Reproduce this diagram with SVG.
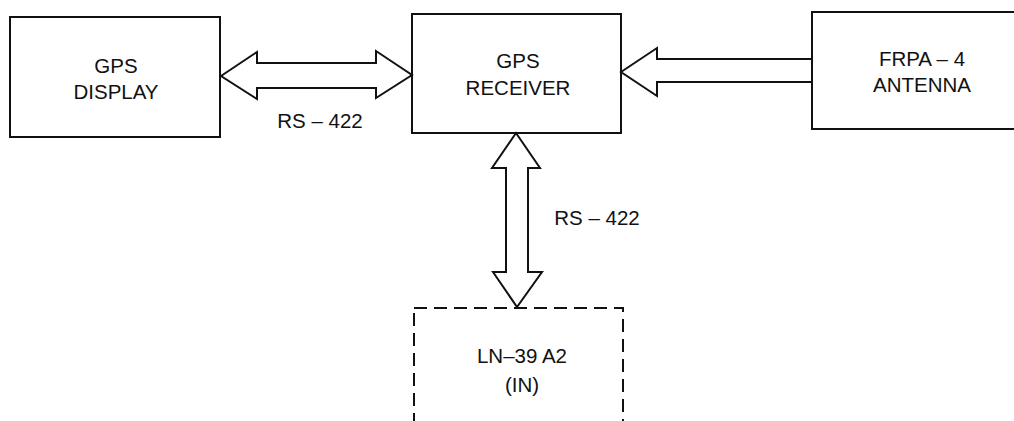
<svg xmlns="http://www.w3.org/2000/svg" width="1014" height="421" viewBox="0 0 1014 421">
<style>
.box{fill:none;stroke:#111;stroke-width:2}
.dash{fill:none;stroke:#111;stroke-width:2;stroke-dasharray:13 7}
.arr{fill:#fff;stroke:#111;stroke-width:2;stroke-linejoin:miter}
text{font-family:"Liberation Sans",Arial,sans-serif;font-size:20.5px;fill:#111;text-anchor:middle}
</style>
<rect width="1014" height="421" fill="#fff"/>
<g id="connectors">
<polygon class="arr" points="221,76 257,52 257,63 376,63 376,51 412,75 376,98 376,88 257,88 257,99"/>
<polygon class="arr" points="621,72 657,48 657,59 812,59 812,82 657,82 657,96"/>
<polygon class="arr" points="516,133 540,168 528,168 528,272 542,272 517,307 493,272 506,272 506,168 492,168"/>
<text x="320" y="128">RS – 422</text>
<text x="597" y="225">RS – 422</text>
</g>
<g id="gps-display">
<rect class="box" x="10" y="17" width="210" height="120"/>
<text x="116" y="73">GPS</text>
<text x="116" y="99">DISPLAY</text>
</g>
<g id="gps-receiver">
<rect class="box" x="412" y="14" width="209" height="119"/>
<text x="518" y="68">GPS</text>
<text x="518" y="95">RECEIVER</text>
</g>
<g id="frpa-antenna">
<rect class="box" x="812" y="12" width="210" height="117"/>
<text x="922" y="66">FRPA – 4</text>
<text x="922" y="92">ANTENNA</text>
</g>
<g id="ln39">
<rect class="dash" x="414" y="308" width="209" height="140"/>
<text x="522" y="363">LN–39 A2</text>
<text x="522" y="392">(IN)</text>
</g>
</svg>
